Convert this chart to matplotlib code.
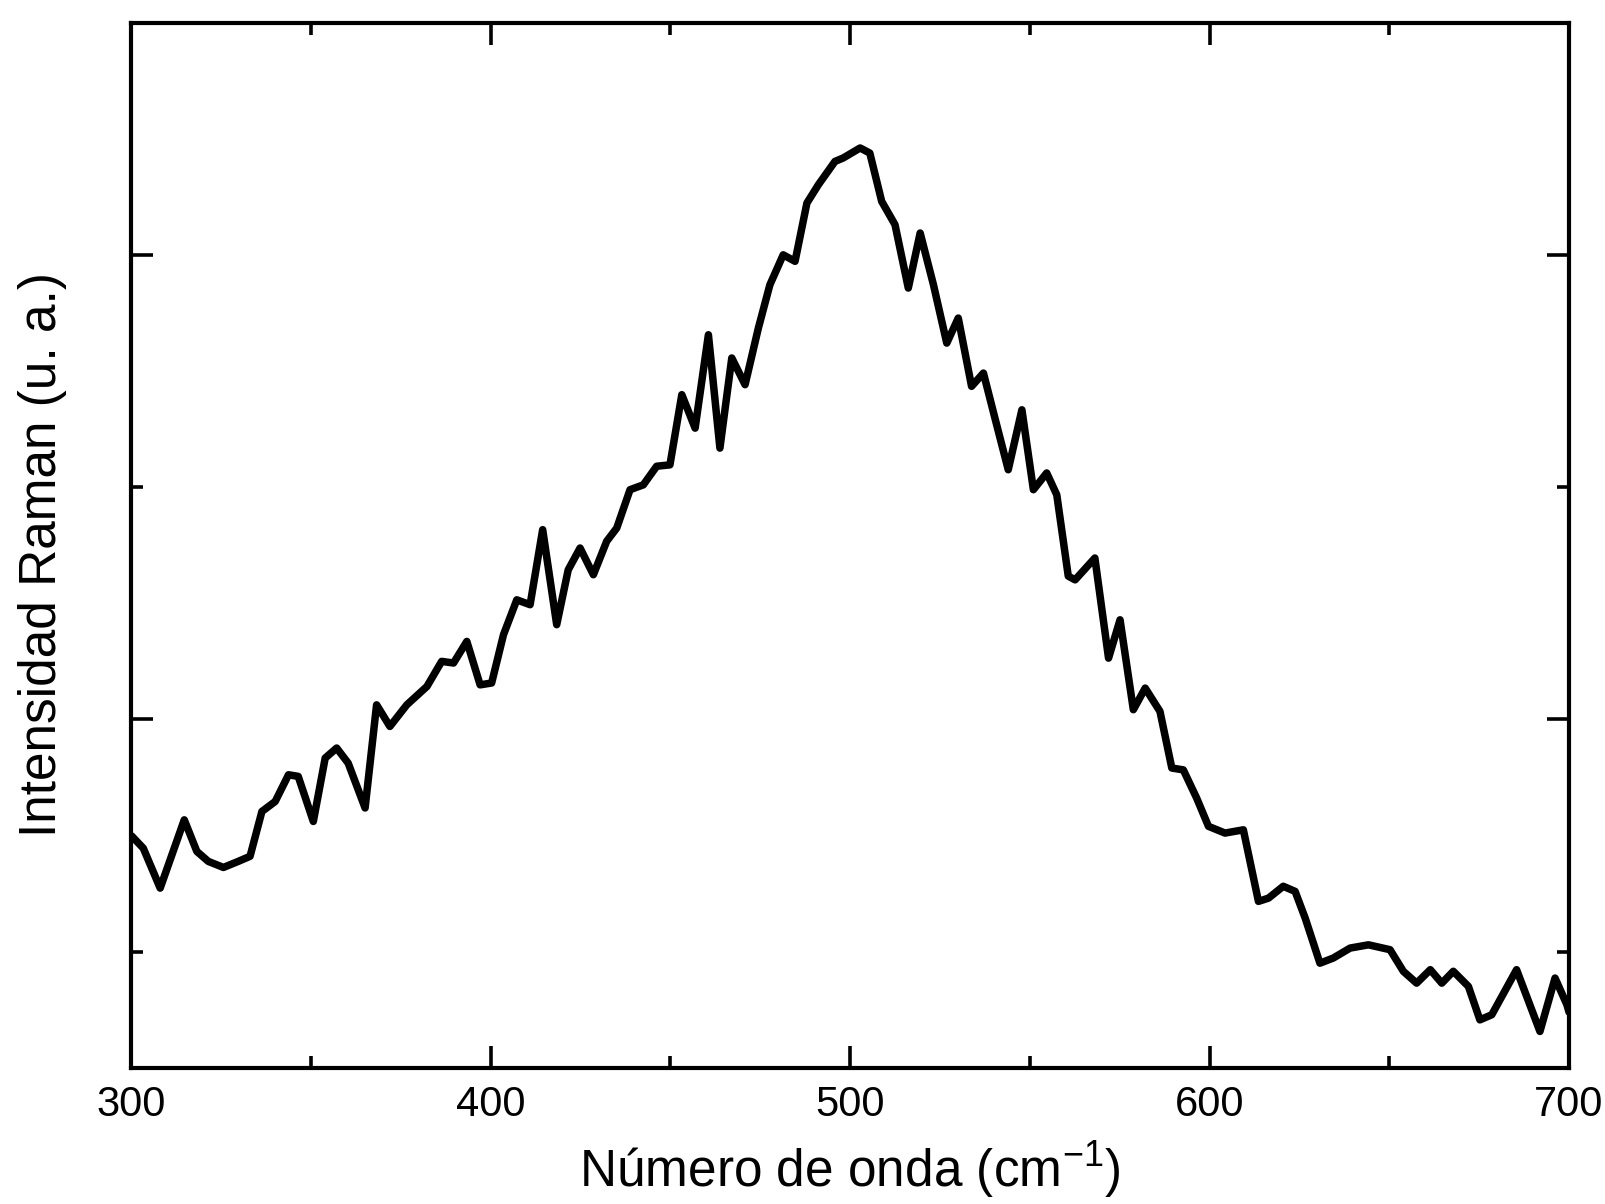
import matplotlib
matplotlib.use("Agg")
import matplotlib.pyplot as plt
from matplotlib.ticker import MultipleLocator, FixedLocator

plt.rcParams['font.family'] = ['Liberation Sans', 'DejaVu Sans']

# Raman spectrum, arbitrary units
wavenumber = [300.2, 303.4, 308.1, 314.8, 318.3, 321.5, 325.7, 329.8, 333.1, 336.4,
              340.1, 343.8, 346.5, 350.7, 354.0, 357.2, 360.4, 365.1, 368.3, 372.0,
              376.7, 382.3, 386.4, 389.7, 393.4, 397.1, 400.3, 403.6, 407.3, 411.0,
              414.5, 418.4, 421.6, 424.9, 428.6, 432.3, 435.1, 438.8, 442.5, 446.2,
              449.9, 453.2, 456.9, 460.6, 463.8, 467.1, 470.8, 474.5, 477.7, 481.4,
              484.7, 488.0, 491.2, 495.8, 498.1, 502.8, 505.5, 508.8, 512.5, 516.2,
              519.5, 523.2, 526.9, 530.1, 533.8, 537.1, 540.3, 544.0, 547.8, 551.0,
              554.7, 557.5, 560.7, 562.6, 568.1, 571.9, 575.1, 578.8, 582.1, 586.2,
              589.5, 592.7, 596.4, 599.7, 604.3, 609.4, 613.6, 616.4, 620.5, 623.8,
              626.6, 630.7, 634.4, 639.1, 644.2, 650.2, 653.9, 657.6, 661.4, 664.6,
              667.8, 672.0, 675.2, 678.5, 685.4, 691.9, 696.1, 699.4, 700.0]
intensity = [1.498, 1.446, 1.274, 1.568, 1.432, 1.389, 1.363, 1.389, 1.411, 1.604,
             1.647, 1.762, 1.755, 1.561, 1.834, 1.877, 1.812, 1.619, 2.063, 1.970,
             2.063, 2.142, 2.250, 2.243, 2.336, 2.149, 2.157, 2.365, 2.515, 2.494,
             2.817, 2.408, 2.644, 2.738, 2.623, 2.767, 2.824, 2.989, 3.010, 3.090,
             3.096, 3.398, 3.254, 3.656, 3.168, 3.556, 3.441, 3.685, 3.871, 4.000,
             3.972, 4.223, 4.302, 4.402, 4.417, 4.460, 4.438, 4.230, 4.130, 3.857,
             4.094, 3.871, 3.620, 3.728, 3.434, 3.491, 3.297, 3.075, 3.333, 2.989,
             3.061, 2.967, 2.617, 2.601, 2.695, 2.264, 2.429, 2.042, 2.135, 2.035,
             1.791, 1.783, 1.662, 1.540, 1.511, 1.525, 1.217, 1.231, 1.282, 1.260,
             1.145, 0.951, 0.973, 1.016, 1.030, 1.009, 0.916, 0.865, 0.923, 0.865,
             0.916, 0.851, 0.707, 0.729, 0.923, 0.657, 0.887, 0.772, 0.740]

x_ticks = [300, 400, 500, 600, 700]
x_ticklabels = ['300', '400', '500', '600', '700']
y_major = [2, 4]
y_minor = [1, 3, 5]

fig = plt.figure(figsize=(16.06, 12.04), dpi=100)
ax = fig.add_axes([0.0816, 0.1130, 0.8954, 0.8683])

ax.plot(wavenumber, intensity, color='black', lw=5.4,
        solid_joinstyle='round', solid_capstyle='round')

ax.set_xlim(300, 700)
ax.set_ylim(0.5, 5.0)
ax.set_xticks(x_ticks)
ax.set_xticklabels(x_ticklabels)
ax.xaxis.set_minor_locator(MultipleLocator(50))
ax.yaxis.set_major_locator(FixedLocator(y_major))
ax.yaxis.set_minor_locator(FixedLocator(y_minor))
ax.set_yticklabels([])

for s in ax.spines.values():
    s.set_linewidth(3.0)

ax.tick_params(which='both', direction='in', top=True, right=True, width=2.6)
ax.tick_params(which='major', length=16)
ax.tick_params(which='minor', length=8.5)
ax.tick_params(axis='x', which='major', labelsize=30, pad=12)

ax.set_xlabel('Número de onda (cm$^{\\mathregular{-1}}$)', fontsize=37, va='baseline')
ax.xaxis.set_label_coords(0.5, -0.1145)
ax.set_ylabel('Intensidad Raman (u. a.)', fontsize=37, va='center')
ax.yaxis.set_label_coords(-0.0615, 0.491)

fig.savefig('out.png', dpi=100, facecolor='white')
